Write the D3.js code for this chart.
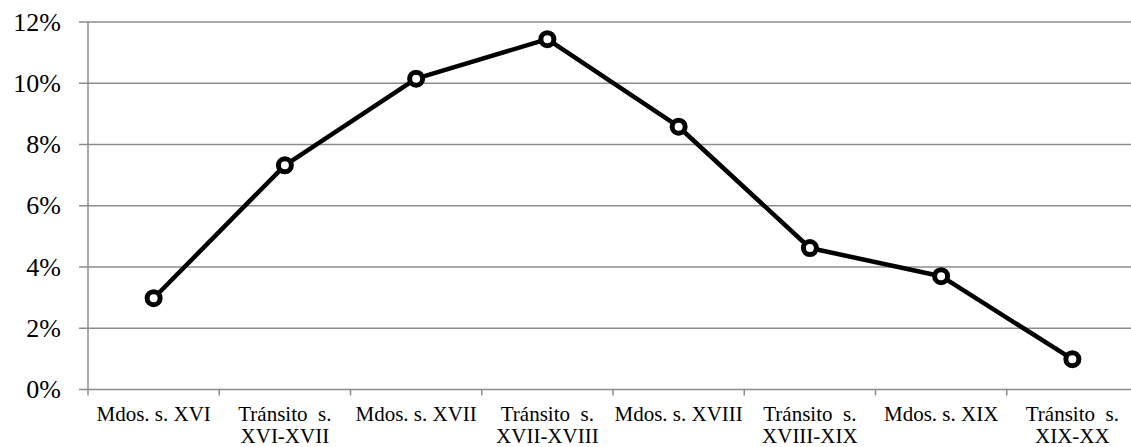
<!DOCTYPE html>
<html><head><meta charset="utf-8">
<script src="https://cdn.jsdelivr.net/npm/d3@7"></script>
<style>body{margin:0;background:#fff;}svg{display:block;}svg text{font-family:'Liberation Serif','Times New Roman',Tinos,serif !important;}</style>
</head><body>
<svg id="c" width="1131" height="447"></svg>
<script>
const categories = [
  ["Mdos. s. XVI"],
  ["Tránsito  s.", "XVI-XVII"],
  ["Mdos. s. XVII"],
  ["Tránsito  s.", "XVII-XVIII"],
  ["Mdos. s. XVIII"],
  ["Tránsito  s.", "XVIII-XIX"],
  ["Mdos. s. XIX"],
  ["Tránsito  s.", "XIX-XX"]
];
const values = [2.98, 7.32, 10.15, 11.44, 8.58, 4.62, 3.70, 0.99];
const yTicks = [0, 2, 4, 6, 8, 10, 12];

const FONT = "'Liberation Serif', 'Times New Roman', Tinos, serif";
const svg = d3.select("#c");
const mLeft = 88, mRight = 1138, mTop = 22, mBottom = 389.5;
const x = d3.scaleBand().domain(d3.range(categories.length)).range([mLeft, mRight]);
const y = d3.scaleLinear().domain([0, 12]).range([mBottom, mTop]);

svg.append("g").selectAll("line").data(yTicks).join("line")
  .attr("x1", mLeft - 9).attr("x2", mRight)
  .attr("y1", d => y(d)).attr("y2", d => y(d))
  .attr("stroke", "#8c8c8c").attr("stroke-width", 1.5);

svg.append("line").attr("x1", mLeft).attr("x2", mLeft).attr("y1", y(12)).attr("y2", mBottom + 6)
  .attr("stroke", "#8c8c8c").attr("stroke-width", 1.5);

svg.append("g").selectAll("line").data(d3.range(1, categories.length)).join("line")
  .attr("x1", d => x(d)).attr("x2", d => x(d))
  .attr("y1", mBottom).attr("y2", mBottom + 6)
  .attr("stroke", "#8c8c8c").attr("stroke-width", 1.5);

svg.append("g").selectAll("text").data(yTicks).join("text")
  .attr("x", 61).attr("y", d => y(d)).attr("dy", "0.33em")
  .attr("text-anchor", "end")
  .attr("font-family", FONT).style("font-family", FONT)
  .style("font-size", "26px").attr("fill", "#000")
  .text(d => d + "%");

const xl = svg.append("g").selectAll("text").data(categories).join("text")
  .attr("text-anchor", "middle")
  .attr("font-family", FONT).style("font-family", FONT)
  .style("font-size", "21px").attr("fill", "#000")
  .style("white-space", "pre");
xl.each(function(d, i) {
  const t = d3.select(this);
  d.forEach((ln, j) => {
    t.append("tspan").attr("x", x(i) + x.bandwidth() / 2)
      .attr("y", 421 + j * 21.7).text(ln);
  });
});

const line = d3.line().x((d, i) => x(i) + x.bandwidth() / 2).y(d => y(d));
svg.append("path").datum(values).attr("d", line)
  .attr("fill", "none").attr("stroke", "#000").attr("stroke-width", 4.5)
  .attr("stroke-linejoin", "round");

svg.append("g").selectAll("circle").data(values).join("circle")
  .attr("cx", (d, i) => x(i) + x.bandwidth() / 2).attr("cy", d => y(d))
  .attr("r", 6.5).attr("fill", "#fff").attr("stroke", "#000").attr("stroke-width", 5);
</script>
</body></html>
